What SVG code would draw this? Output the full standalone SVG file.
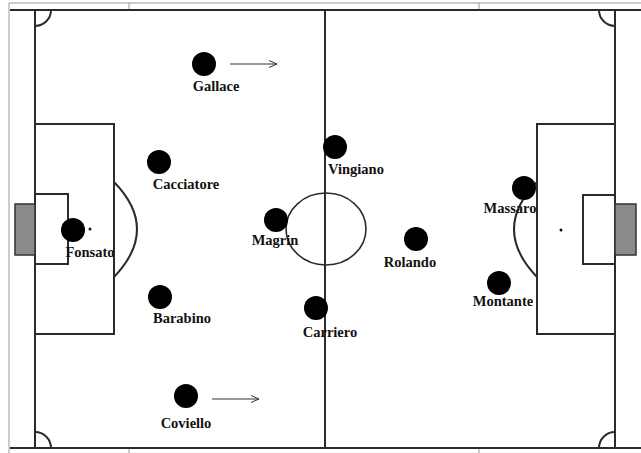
<svg xmlns="http://www.w3.org/2000/svg" width="641" height="453" viewBox="0 0 641 453">
<defs>
<style>
.frame{stroke:#9a9a9a;stroke-width:1;fill:none}
.line{stroke:#2b2b2b;stroke-width:2;fill:none}
.thin{stroke:#2b2b2b;stroke-width:1.6;fill:none}
.goal{fill:#8a8a8a;stroke:#333;stroke-width:1.5}
.dot{fill:#000}
.lbl{font-family:"Liberation Serif","Times New Roman",serif;font-weight:bold;font-size:14.5px;fill:#111;text-anchor:middle}
.arrow{stroke:#333;stroke-width:1;fill:none}
</style>
<marker id="ah" markerWidth="10" markerHeight="10" refX="9" refY="5" orient="auto" markerUnits="userSpaceOnUse">
<path d="M1,1.5 L9,5 L1,8.5" fill="none" stroke="#333" stroke-width="1"/>
</marker>
</defs>
<rect width="641" height="453" fill="#fff"/>
<g id="pitch">
<line class="frame" x1="9" y1="3" x2="641" y2="3"/>
<line class="frame" x1="9" y1="3" x2="9" y2="453"/>
<line class="frame" x1="129" y1="3" x2="129" y2="10"/>
<line class="frame" x1="479" y1="3" x2="479" y2="10"/>
<line class="frame" x1="129" y1="448" x2="129" y2="453"/>
<line class="frame" x1="479" y1="448" x2="479" y2="453"/>
<line class="line" x1="10" y1="10" x2="641" y2="10"/>
<line class="line" x1="10" y1="448" x2="641" y2="448"/>
<line class="line" x1="35" y1="10" x2="35" y2="448"/>
<line class="line" x1="615" y1="10" x2="615" y2="448"/>
<line class="line" x1="325" y1="10" x2="325" y2="448"/>
<ellipse class="thin" cx="326" cy="229" rx="40" ry="36"/>
<rect class="line" x="35" y="124" width="79" height="210"/>
<rect class="line" x="35" y="194" width="33" height="70"/>
<rect class="goal" x="15" y="204" width="20" height="51"/>
<path class="line" d="M114,182 Q160,229 114,277"/>
<circle cx="90" cy="229" r="1.5" fill="#111"/>
<rect class="line" x="537" y="124" width="78" height="210"/>
<rect class="line" x="583" y="195" width="32" height="69"/>
<rect class="goal" x="615" y="204" width="21" height="51"/>
<path class="line" d="M537,182 Q491,229 537,277"/>
<circle cx="561" cy="230" r="1.5" fill="#111"/>
<path class="line" d="M35,26 A16,16 0 0 0 51,10"/>
<path class="line" d="M599,10 A16,16 0 0 0 615,26"/>
<path class="line" d="M35,432 A16,16 0 0 1 51,448"/>
<path class="line" d="M599,448 A16,16 0 0 1 615,432"/>
</g>
<g id="connectors">
<line class="arrow" x1="230" y1="64" x2="277" y2="64" marker-end="url(#ah)"/>
<line class="arrow" x1="212" y1="399" x2="259" y2="399" marker-end="url(#ah)"/>
</g>
<g id="gallace"><circle class="dot" cx="204" cy="64" r="12"/><text class="lbl" x="216" y="91">Gallace</text></g>
<g id="cacciatore"><circle class="dot" cx="159" cy="162" r="12"/><text class="lbl" x="186" y="189">Cacciatore</text></g>
<g id="fonsato"><circle class="dot" cx="73" cy="230" r="12"/><text class="lbl" x="90" y="257">Fonsato</text></g>
<g id="barabino"><circle class="dot" cx="160" cy="297" r="12"/><text class="lbl" x="182" y="323">Barabino</text></g>
<g id="coviello"><circle class="dot" cx="186" cy="396" r="12"/><text class="lbl" x="186" y="428">Coviello</text></g>
<g id="vingiano"><circle class="dot" cx="335" cy="147" r="12"/><text class="lbl" x="356" y="174">Vingiano</text></g>
<g id="magrin"><circle class="dot" cx="276" cy="220" r="12"/><text class="lbl" x="275" y="245">Magrin</text></g>
<g id="rolando"><circle class="dot" cx="416" cy="239" r="12"/><text class="lbl" x="410" y="267">Rolando</text></g>
<g id="carriero"><circle class="dot" cx="316" cy="308" r="12"/><text class="lbl" x="330" y="337">Carriero</text></g>
<g id="massaro"><circle class="dot" cx="524" cy="188" r="12"/><text class="lbl" x="510" y="213">Massaro</text></g>
<g id="montante"><circle class="dot" cx="499" cy="283" r="12"/><text class="lbl" x="503" y="306">Montante</text></g>
</svg>
